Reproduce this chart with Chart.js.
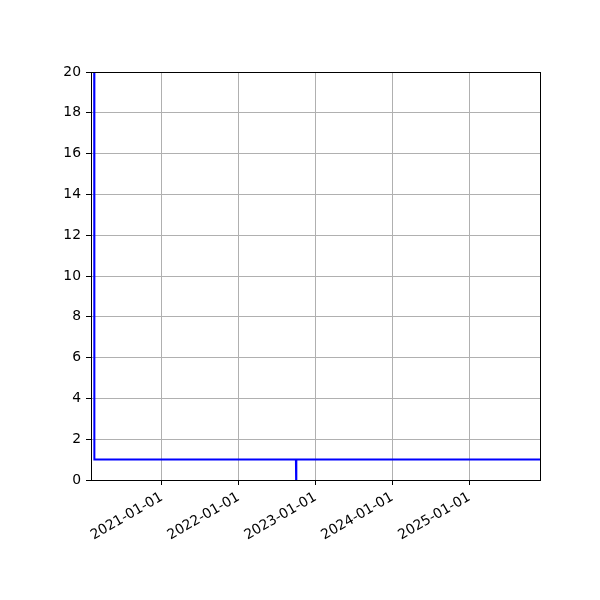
<!DOCTYPE html>
<html>
<head>
<meta charset="utf-8">
<script src="https://cdn.jsdelivr.net/npm/chart.js@4.4.1/dist/chart.umd.min.js"></script>
<style>
  html, body { margin: 0; padding: 0; background: #ffffff; }
  #wrap { width: 600px; height: 600px; }
</style>
</head>
<body>
<div id="wrap"><canvas id="c" width="600" height="600"></canvas></div>
<script>
// ---- data ----
const dates = ['2020-02-15', '2020-02-16', '2022-09-30', '2022-10-01', '2022-10-02', '2025-12-02'];
const values = [25, 1, 1, 0, 1, 1];
const xTickDates = ['2021-01-01', '2022-01-01', '2023-01-01', '2024-01-01', '2025-01-01'];
const yTicks = [0, 2, 4, 6, 8, 10, 12, 14, 16, 18, 20];
const xMinDate = '2020-01-31';
const xMaxDate = '2025-12-02';

const toMs = s => Date.parse(s + 'T00:00:00Z');
const fmt = ms => new Date(ms).toISOString().slice(0, 10);

const points = dates.map((d, i) => ({ x: toMs(d), y: values[i] }));

const frame = {
  id: 'frame',
  afterDraw(chart) {
    const { ctx, chartArea: a } = chart;
    ctx.save();
    ctx.strokeStyle = '#000000';
    ctx.lineWidth = 1;
    ctx.strokeRect(Math.round(a.left) + 0.5, Math.round(a.top) + 0.5,
                   Math.round(a.right - a.left), Math.round(a.bottom - a.top));
    ctx.restore();
  }
};

const font = { family: 'DejaVu Sans', size: 13.9 };

new Chart(document.getElementById('c'), {
  type: 'line',
  data: {
    datasets: [{
      data: points,
      borderColor: '#0000ff',
      borderWidth: 2,
      pointRadius: 0,
      fill: false,
      tension: 0
    }]
  },
  options: {
    responsive: false,
    animation: false,
    devicePixelRatio: 1,
    layout: { padding: { top: 72, right: 60, left: 0, bottom: 0 } },
    plugins: { legend: { display: false }, tooltip: { enabled: false } },
    scales: {
      x: {
        type: 'linear',
        min: toMs(xMinDate),
        max: toMs(xMaxDate),
        afterBuildTicks(scale) {
          scale.ticks = xTickDates.map(d => ({ value: toMs(d) }));
        },
        afterFit(scale) { scale.height = 120; },
        ticks: {
          callback: v => fmt(v),
          font: font,
          color: '#000000',
          minRotation: 30,
          maxRotation: 30,
          padding: 4,
          autoSkip: false
        },
        grid: { color: '#b0b0b0', lineWidth: 1, tickColor: '#000000', tickLength: 5, drawTicks: true },
        border: { display: false }
      },
      y: {
        type: 'linear',
        min: 0,
        max: 20,
        afterBuildTicks(scale) {
          scale.ticks = yTicks.map(v => ({ value: v }));
        },
        afterFit(scale) { scale.width = 91; },
        ticks: { font: font, color: '#000000', padding: 5 },
        grid: { color: '#b0b0b0', lineWidth: 1, tickColor: '#000000', tickLength: 5, drawTicks: true },
        border: { display: false }
      }
    }
  },
  plugins: [frame]
});
</script>
</body>
</html>
